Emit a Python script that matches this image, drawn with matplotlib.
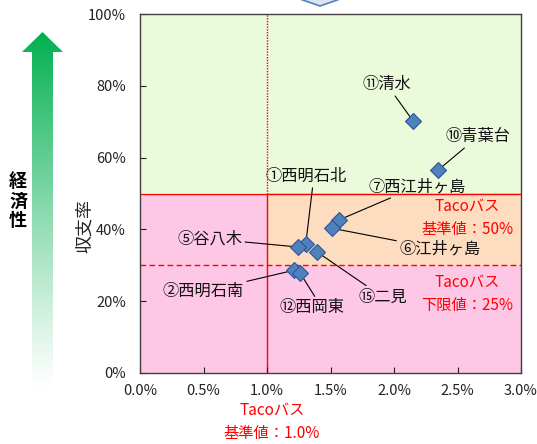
import numpy as np
import matplotlib
matplotlib.use('Agg')
import matplotlib.pyplot as plt
from matplotlib.patches import Polygon
from matplotlib.ticker import FuncFormatter

plt.rcParams['font.family'] = ['Noto Sans CJK JP', 'DejaVu Sans']

# ── data ─────────────────────────────────────────────────────────────────────
names = ['⑪清水', '⑩青葉台', '⑦西江井ヶ島', '⑥江井ヶ島', '①西明石北',
         '⑤谷八木', '⑮二見', '②西明石南', '⑫西岡東']
cost_ratio = [2.15, 2.35, 1.565, 1.515, 1.305, 1.245, 1.395, 1.21, 1.26]   # x (%)
recovery = [70.2, 56.6, 42.6, 40.3, 35.9, 35.1, 33.7, 28.6, 27.9]          # y (%)

x_ticks = [0.0, 0.5, 1.0, 1.5, 2.0, 2.5, 3.0]
y_ticks = [0, 20, 40, 60, 80, 100]
ref_x = 1.0       # Taco bus reference x
ref_y = 50        # Taco bus reference y
low_y = 30        # Taco bus lower limit line

# label placement (data coords) and where the leader leaves the text box
label_pos = [(1.945, 80.3), (2.66, 65.8), (2.18, 51.9), (2.36, 34.5),
             (1.305, 54.7), (0.55, 37.4), (1.91, 21.2), (0.50, 22.7),
             (1.355, 18.2)]
label_rel = [(0.5, 0.5), (0.5, 0.5), (0.5, 0.5), (0.5, 0.5),
             (0.6, 0.5), (0.5, 0.5), (0.5, 0.5), (0.5, 0.5),
             (0.6, 0.8)]

W, H = 537, 444
fig = plt.figure(figsize=(W / 100, H / 100), dpi=100)

# overlay axes in pixel coords for the decorations
ov = fig.add_axes([0, 0, 1, 1], zorder=0)
ov.set_xlim(0, W)
ov.set_ylim(H, 0)
ov.axis('off')
ov.patch.set_alpha(0)

# green gradient arrow
arrow = Polygon([(32, 390), (32, 52), (22, 52), (42.5, 32), (63, 52),
                 (53, 52), (53, 390)], closed=True, facecolor='none',
                edgecolor='none')
ov.add_patch(arrow)
grad = np.zeros((200, 1, 4))
grad[..., 1] = 0.69
grad[..., 2] = 0.31
grad[:, 0, 3] = np.linspace(1.0, 0.0, 200) ** 1.1
im = ov.imshow(grad, extent=(20, 65, 390, 32), aspect='auto',
               interpolation='bilinear')
im.set_clip_path(arrow)

ov.text(18, 201, '経\n済\n性', fontsize=13, fontweight='bold',
        ha='center', va='center', linespacing=1.05)

# blue chevron fragment at top
ov.add_patch(Polygon([(297, -2), (320, 6), (343, -2)], closed=True,
                     facecolor='#DCE6F2', edgecolor='#4F81BD', lw=1.2,
                     clip_on=False))

# ── main axes ────────────────────────────────────────────────────────────────
ax = fig.add_axes([140 / W, 1 - 373 / H, 381 / W, 359 / H], zorder=1)
ax.set_xlim(0, 3)
ax.set_ylim(0, 100)

# background zones
ax.axhspan(ref_y, 100, color='#EBFADB', zorder=0, lw=0)
ax.axhspan(0, ref_y, color='#FFC7E6', zorder=0, lw=0)
ax.fill_between([ref_x, 3], low_y, ref_y, color='#FDDCC0', zorder=0, lw=0)

# reference lines
ax.plot([ref_x, ref_x], [0, ref_y], color='#FF0000', lw=1.0, zorder=1)
ax.plot([ref_x, ref_x], [ref_y, 100], color='#FF0000', lw=1.0,
        linestyle=(0, (1, 1)), zorder=1)
ax.axhline(ref_y, color='#FF0000', lw=1.0, zorder=1)
ax.axhline(low_y, color='#FF0000', lw=1.0, linestyle=(0, (4, 2.5)), zorder=1)

# points
ax.plot(cost_ratio, recovery, linestyle='none', marker='D', markersize=8.5,
        markerfacecolor='#4F81BD', markeredgecolor='#2F5597',
        markeredgewidth=0.8, zorder=5)

for name, x, y, (tx, ty), rp in zip(names, cost_ratio, recovery,
                                    label_pos, label_rel):
    ax.annotate(name, xy=(x, y), xytext=(tx, ty), fontsize=11.7,
                ha='center', va='center', color='#111111',
                arrowprops=dict(arrowstyle='-', color='black', lw=0.8,
                                shrinkA=0, shrinkB=0, relpos=rp), zorder=4)

red = '#FF0000'
ax.text(2.575, 43.2, 'Tacoバス\n基準値：50%', color=red, fontsize=11,
        ha='center', va='center', linespacing=1.45)
ax.text(2.575, 22.1, 'Tacoバス\n下限値：25%', color=red, fontsize=11,
        ha='center', va='center', linespacing=1.45)
ax.text(ref_x + 0.04, -13.6, 'Tacoバス\n基準値：1.0%', color=red, fontsize=11,
        ha='center', va='center', linespacing=1.45, clip_on=False)

ax.set_xticks(x_ticks)
ax.set_yticks(y_ticks)
ax.xaxis.set_major_formatter(FuncFormatter(lambda v, p: f'{v:.1f}%'))
ax.yaxis.set_major_formatter(FuncFormatter(lambda v, p: f'{v:.0f}%'))
ax.tick_params(direction='in', length=4, width=0.8, labelsize=10.5,
               colors='#222222')
ax.tick_params(axis='x', pad=8)
ax.tick_params(axis='y', pad=10)
for s in ax.spines.values():
    s.set_color('#404040')
    s.set_linewidth(1.0)

ax.set_ylabel('収支率', fontsize=13, color='#222222')
ax.yaxis.set_label_coords(-0.12, 0.41)

fig.savefig('out.png', dpi=100, facecolor='white')
